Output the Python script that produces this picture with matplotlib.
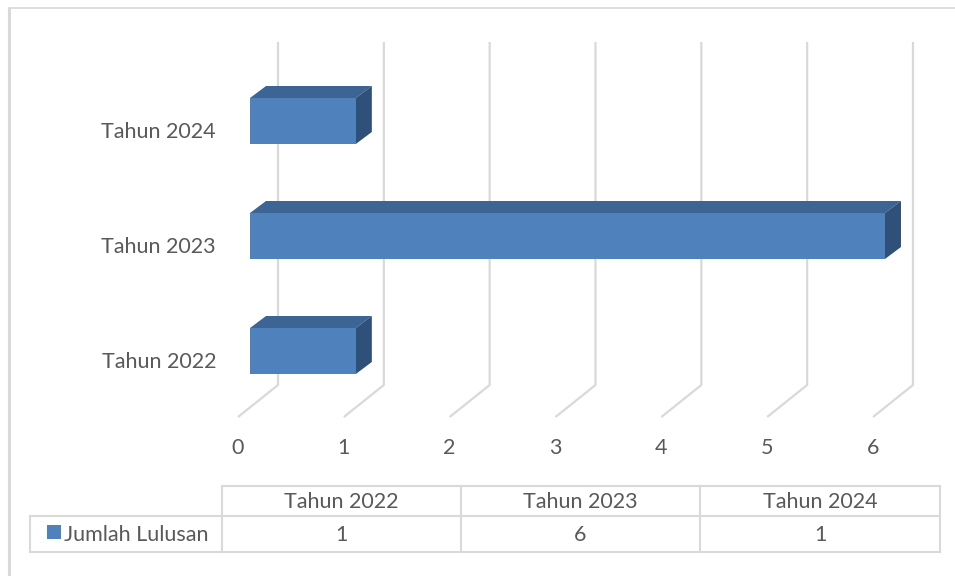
import matplotlib
matplotlib.use("Agg")
import matplotlib.pyplot as plt
from matplotlib.patches import Polygon, Rectangle

categories = ["Tahun 2022", "Tahun 2023", "Tahun 2024"]
values = [1, 6, 1]
series_name = "Jumlah Lulusan"
xticks = [0, 1, 2, 3, 4, 5, 6]

W, H = 955, 576
plt.rcParams['font.family'] = ['Lato', 'DejaVu Sans']
TXT = '#595959'
GRID = '#d9d9d9'
FRONT = '#4F81BD'
TOP = '#3C6494'
SIDE = '#2F5079'
FS = 15.5

fig = plt.figure(figsize=(W / 100, H / 100), dpi=100)

# pixel overlay for frame & table
pax = fig.add_axes([0, 0, 1, 1])
pax.set_xlim(0, W); pax.set_ylim(H, 0); pax.axis('off')

# data axes: value -> px = 250 + 105.83*v ; category i -> py = 351 - 115*i
ux, uy = 105.83, 115.0
x0, y0 = 250.0, 351.0
ax = fig.add_axes([0, 0, 1, 1])
ax.patch.set_alpha(0)
ax.set_xlim(-x0 / ux, (W - x0) / ux)
ax.set_ylim((y0 - H) / uy, y0 / uy)
ax.axis('off')

def px(dx):
    return dx / ux
def py(dy):
    return -dy / uy

# gridlines (back wall + floor diagonals)
back_dx, back_top, back_bot = px(28), py(42 - y0), py(385 - y0)
front_dx, front_y = px(-12), py(417 - y0)
for k in xticks:
    ax.plot([k + back_dx, k + back_dx, k + front_dx],
            [back_top, back_bot, front_y], color=GRID, lw=1.6,
            solid_capstyle='butt', zorder=1)
    ax.text(k + front_dx, py(448 - y0), str(k), ha='center', va='center',
            fontsize=FS, color=TXT)

# bars
h = 46 / uy
ddx, ddy = px(16), 12 / uy
for i, (c, v) in enumerate(zip(categories, values)):
    top, bot = i + h / 2, i - h / 2
    ax.add_patch(Polygon([(0, top), (v, top), (v + ddx, top + ddy), (ddx, top + ddy)],
                         closed=True, fc=TOP, ec='none', zorder=3))
    ax.add_patch(Polygon([(v, bot), (v, top), (v + ddx, top + ddy), (v + ddx, bot + ddy)],
                         closed=True, fc=SIDE, ec='none', zorder=3))
    ax.add_patch(Rectangle((0, bot), v, h, fc=FRONT, ec='none', zorder=4))
    ax.text(px(216 - x0), i - 11 / uy, c, ha='right', va='center',
            fontsize=FS, color=TXT)

# outer frame (left and top only visible)
pax.plot([9, 9], [7, H], color='#d9d9d9', lw=2.2, solid_capstyle='butt')
pax.plot([8, W], [7.5, 7.5], color='#d9d9d9', lw=1.2, solid_capstyle='butt')

# data table
tcol = '#d9d9d9'
cols = [222, 461, 700, 940]
ytop, ymid, ybot = 486, 516, 552
pax.plot([cols[0], cols[-1]], [ytop, ytop], color=tcol, lw=1.5)
pax.plot([30, cols[-1]], [ymid, ymid], color=tcol, lw=1.5)
pax.plot([30, cols[-1]], [ybot, ybot], color=tcol, lw=1.5)
pax.plot([30, 30], [ymid, ybot], color=tcol, lw=1.5)
for cx in cols:
    pax.plot([cx, cx], [ytop, ybot], color=tcol, lw=1.5)
for j, c in enumerate(categories):
    cx = (cols[j] + cols[j + 1]) / 2
    pax.text(cx, (ytop + ymid) / 2 + 1, c, ha='center', va='center', fontsize=FS, color=TXT)
    pax.text(cx, (ymid + ybot) / 2 + 1, str(values[j]), ha='center', va='center', fontsize=FS, color=TXT)
pax.add_patch(Rectangle((47, 525), 14, 14, fc=FRONT, ec='none'))
pax.text(64, (ymid + ybot) / 2 + 1, series_name, ha='left', va='center', fontsize=FS, color=TXT)

fig.savefig('out.png', dpi=100)
